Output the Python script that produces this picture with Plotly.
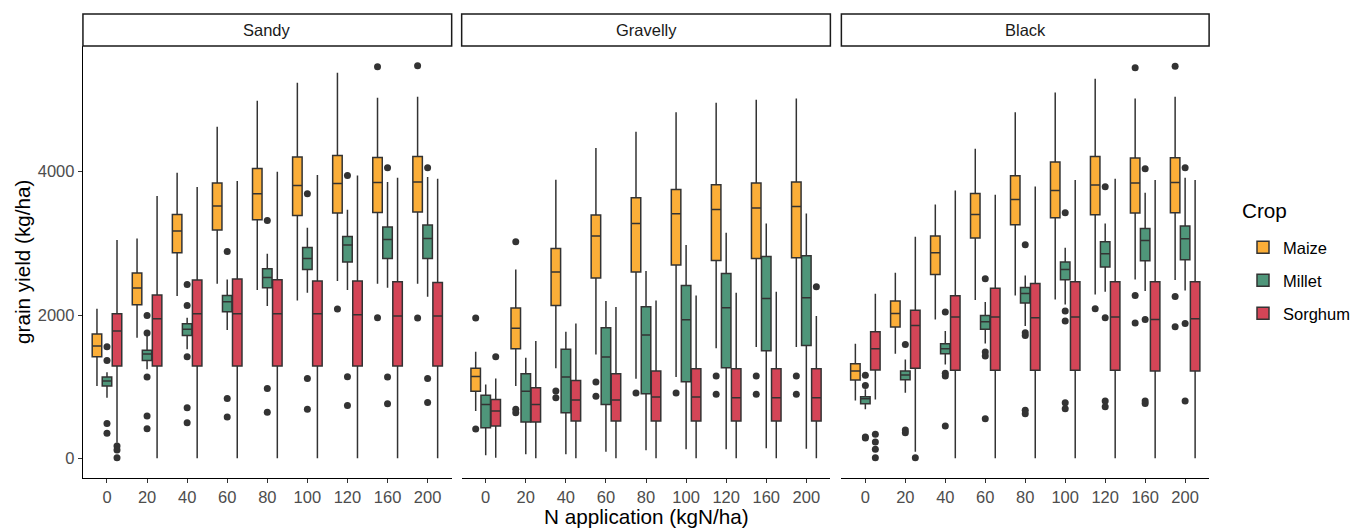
import plotly.graph_objects as go
from plotly.subplots import make_subplots

n_levels = ["0", "20", "40", "60", "80", "100", "120", "160", "200"]
soils = ["Sandy", "Gravelly", "Black"]
crops = ["Maize", "Millet", "Sorghum"]
crop_colors = {"Maize": "#FBAE38", "Millet": "#4F967A", "Sorghum": "#D44557"}

# five-number summaries per N level: (lower whisker, q1, median, q3, upper whisker)
sandy_maize = [(1009, 1418, 1567, 1734, 2088), (1683, 2144, 2376, 2585, 3069), (2265, 2869, 3171, 3404, 3985),
               (2437, 3185, 3520, 3841, 4627), (2348, 3329, 3692, 4046, 4989), (2204, 3390, 3808, 4204, 5241),
               (2474, 3422, 3836, 4227, 5380), (2437, 3432, 3850, 4199, 5031), (2437, 3436, 3855, 4213, 5045)]
sandy_millet = [(846, 1009, 1079, 1135, 1200), (1242, 1367, 1455, 1507, 1707), (1521, 1716, 1800, 1879, 1962),
                (1790, 2046, 2186, 2274, 2497), (2125, 2381, 2525, 2646, 2855), (2311, 2637, 2790, 2943, 3218),
                (2348, 2739, 2976, 3097, 3469), (2381, 2790, 3055, 3227, 3855), (2255, 2790, 3069, 3255, 3925)]
sandy_sorghum = [(219, 1288, 1776, 2018, 3046), (0, 1288, 1948, 2279, 3660), (0, 1288, 2018, 2488, 3785),
                 (0, 1288, 2018, 2502, 3869), (0, 1288, 2018, 2492, 3999), (0, 1288, 2018, 2474, 3953),
                 (0, 1288, 2004, 2474, 3948), (0, 1288, 1986, 2465, 3915), (0, 1288, 1986, 2455, 3901)]

gravelly_maize = [(660, 935, 1144, 1256, 1488), (1009, 1530, 1814, 2097, 2637), (1256, 2134, 2599, 2930, 3887),
                  (1451, 2516, 3102, 3395, 4329), (1111, 2599, 3278, 3636, 4557), (1135, 2697, 3413, 3753, 4831),
                  (1535, 2762, 3474, 3818, 4962), (1553, 2790, 3492, 3841, 5003), (1553, 2799, 3515, 3855, 5022)]
gravelly_millet = [(42, 428, 753, 879, 1032), (56, 507, 935, 1181, 1404), (56, 637, 1135, 1521, 1767),
                   (93, 753, 1414, 1823, 2195), (112, 902, 1721, 2116, 2613), (126, 1070, 1934, 2413, 2976),
                   (126, 1265, 2102, 2581, 3148), (140, 1502, 2232, 2818, 3278), (135, 1576, 2241, 2827, 3418)]
gravelly_sorghum = [(9, 451, 660, 823, 1116), (0, 507, 753, 986, 1637), (0, 521, 814, 1088, 1883),
                    (0, 521, 814, 1181, 2111), (0, 521, 856, 1218, 2204), (0, 521, 856, 1251, 2274),
                    (0, 521, 846, 1251, 2311), (0, 521, 846, 1251, 2325), (0, 521, 846, 1251, 1986)]

black_maize = [(809, 1093, 1218, 1321, 1600), (1460, 1832, 2023, 2195, 2590), (1939, 2567, 2869, 3102, 3543),
               (2209, 3074, 3404, 3697, 4320), (2274, 3260, 3613, 3943, 4831), (2218, 3357, 3739, 4134, 5106),
               (2288, 3399, 3813, 4213, 5296), (2497, 3422, 3841, 4190, 5022), (2488, 3427, 3850, 4194, 5045)]
black_millet = [(684, 763, 832, 860, 963), (916, 1097, 1163, 1218, 1381), (1311, 1460, 1530, 1600, 1776),
                (1604, 1800, 1907, 1995, 2181), (1846, 2167, 2302, 2385, 2553), (2148, 2492, 2637, 2739, 2939),
                (2325, 2669, 2855, 3023, 3278), (2334, 2757, 3041, 3209, 3706), (2344, 2771, 3064, 3241, 3915)]
black_sorghum = [(823, 1232, 1530, 1767, 2297), (93, 1256, 1855, 2065, 3092), (0, 1228, 1972, 2269, 3739),
                 (0, 1228, 1972, 2372, 3678), (0, 1228, 1962, 2441, 3794), (0, 1228, 1972, 2465, 3883),
                 (0, 1228, 1972, 2465, 3901), (0, 1218, 1939, 2465, 3883), (0, 1218, 1948, 2465, 3883)]

# outliers: (N level, grain yield)
sandy_maize_out = [("120", 2083), ("160", 5464), ("160", 1962), ("200", 5478), ("200", 1958)]
sandy_millet_out = [("0", 1558), ("0", 1367), ("0", 488), ("0", 349), ("20", 1995), ("20", 1748), ("20", 1135),
                    ("20", 591), ("20", 414), ("40", 2427), ("40", 2134), ("40", 1418), ("40", 707), ("40", 498),
                    ("60", 2888), ("60", 837), ("60", 577), ("80", 3320), ("80", 976), ("80", 642),
                    ("100", 3692), ("100", 1116), ("100", 684), ("120", 3948), ("120", 1139), ("120", 739),
                    ("160", 4055), ("160", 1135), ("160", 763), ("200", 4055), ("200", 1116), ("200", 781)]
sandy_sorghum_out = [("0", 172), ("0", 116), ("0", 9)]

gravelly_maize_out = [("0", 1958), ("0", 409), ("20", 3023), ("20", 684), ("20", 637), ("40", 939), ("40", 846),
                      ("60", 1065), ("60", 865), ("80", 911), ("100", 911), ("120", 1149), ("120", 893),
                      ("160", 1149), ("160", 893), ("200", 1149), ("200", 893)]
gravelly_millet_out = []
gravelly_sorghum_out = [("0", 1418), ("200", 2395)]

black_maize_out = [("120", 2088), ("160", 5450), ("160", 2274), ("160", 1888), ("200", 5473), ("200", 2260),
                   ("200", 1837)]
black_millet_out = [("0", 1158), ("0", 1018), ("0", 298), ("0", 284), ("20", 1590), ("20", 395), ("20", 358),
                    ("40", 2041), ("40", 1186), ("40", 1149), ("40", 451), ("60", 2506), ("60", 1483),
                    ("60", 1428), ("60", 553), ("80", 2981), ("80", 1753), ("80", 1716), ("80", 670),
                    ("80", 623), ("100", 3427), ("100", 2055), ("100", 1916), ("100", 777), ("100", 693),
                    ("120", 3790), ("120", 1962), ("120", 800), ("120", 721), ("160", 4041), ("160", 1939),
                    ("160", 800), ("160", 767), ("200", 4055), ("200", 1883), ("200", 800)]
black_sorghum_out = [("0", 335), ("0", 228), ("0", 126), ("0", 9), ("20", 9)]

stats = {
    "Sandy": {"Maize": sandy_maize, "Millet": sandy_millet, "Sorghum": sandy_sorghum},
    "Gravelly": {"Maize": gravelly_maize, "Millet": gravelly_millet, "Sorghum": gravelly_sorghum},
    "Black": {"Maize": black_maize, "Millet": black_millet, "Sorghum": black_sorghum},
}
outliers = {
    "Sandy": {"Maize": sandy_maize_out, "Millet": sandy_millet_out, "Sorghum": sandy_sorghum_out},
    "Gravelly": {"Maize": gravelly_maize_out, "Millet": gravelly_millet_out, "Sorghum": gravelly_sorghum_out},
    "Black": {"Maize": black_maize_out, "Millet": black_millet_out, "Sorghum": black_sorghum_out},
}

FONT = "Liberation Sans, Arial, sans-serif"
W, H = 1355, 529
EDGE = "#333333"

fig = make_subplots(rows=1, cols=3)

for ci, soil in enumerate(soils, start=1):
    for crop in crops:
        s = stats[soil][crop]
        fig.add_trace(go.Box(
            x=n_levels,
            lowerfence=[v[0] for v in s], q1=[v[1] for v in s], median=[v[2] for v in s],
            q3=[v[3] for v in s], upperfence=[v[4] for v in s],
            name=crop, legendgroup=crop, offsetgroup=crop, showlegend=(ci == 1),
            fillcolor=crop_colors[crop], line=dict(color=EDGE, width=1.5),
            whiskerwidth=0, boxpoints=False, hoverinfo="skip",
        ), row=1, col=ci)
    for crop in crops:
        o = outliers[soil][crop]
        fig.add_trace(go.Scatter(
            x=[p[0] for p in o], y=[p[1] for p in o], mode="markers",
            marker=dict(color=EDGE, size=7, line=dict(width=0)),
            name=crop, legendgroup=crop, offsetgroup=crop, showlegend=False, hoverinfo="skip",
        ), row=1, col=ci)

# panel geometry (pixels)
panels_px = [(83, 452), (462, 831), (842, 1210)]
plot_top, plot_bot = 46, 478
strip_top = 14

for ci, (x0, x1) in enumerate(panels_px, start=1):
    xa = "xaxis" if ci == 1 else f"xaxis{ci}"
    ya = "yaxis" if ci == 1 else f"yaxis{ci}"
    fig.layout[xa].update(
        domain=[x0 / W, x1 / W], type="category", categoryorder="array", categoryarray=n_levels,
        range=[-0.6, 8.6], showline=True, linecolor="black", linewidth=1.3, mirror=False,
        ticks="outside", ticklen=4, tickcolor=EDGE, tickwidth=1.1, showgrid=False, zeroline=False,
        tickfont=dict(family=FONT, size=16.5, color="#4D4D4D"), automargin=False,
    )
    fig.layout[ya].update(
        domain=[1 - plot_bot / H, 1 - plot_top / H], range=[-274, 5754],
        tickvals=[0, 2000, 4000], showgrid=False, zeroline=False, automargin=False,
        showline=(ci == 1), linecolor="black", linewidth=1.3,
        ticks="outside" if ci == 1 else "", ticklen=4, tickcolor=EDGE, tickwidth=1.1,
        showticklabels=(ci == 1), tickfont=dict(family=FONT, size=16.5, color="#4D4D4D"),
    )
    # strip
    fig.add_shape(type="rect", xref="paper", yref="paper",
                  x0=x0 / W, x1=x1 / W, y0=1 - plot_top / H, y1=1 - strip_top / H,
                  line=dict(color="#1A1A1A", width=1.5), fillcolor="white", layer="above")
    fig.add_annotation(x=(x0 + x1) / 2 / W, y=1 - (plot_top + strip_top) / 2 / H, xref="paper", yref="paper",
                       text=soils[ci - 1], showarrow=False, xanchor="center", yanchor="middle",
                       font=dict(family=FONT, size=16.5, color="#1A1A1A"))

fig.add_annotation(x=647 / W, y=1 - 516 / H, xref="paper", yref="paper", text="N application (kgN/ha)",
                   showarrow=False, xanchor="center", yanchor="middle",
                   font=dict(family=FONT, size=20.7, color="black"))
fig.add_annotation(x=22 / W, y=1 - 262 / H, xref="paper", yref="paper", text="grain yield (kg/ha)",
                   showarrow=False, xanchor="center", yanchor="middle", textangle=-90,
                   font=dict(family=FONT, size=20.7, color="black"))
# legend title
fig.add_annotation(x=1241 / W, y=1 - 210 / H, xref="paper", yref="paper", text="Crop",
                   showarrow=False, xanchor="left", yanchor="middle",
                   font=dict(family=FONT, size=20.7, color="black"))

fig.update_layout(
    width=W, height=H, margin=dict(l=0, r=0, t=0, b=0),
    paper_bgcolor="white", plot_bgcolor="white",
    boxmode="group", boxgap=0.25, boxgroupgap=0.05,
    scattermode="group", scattergap=0.25,
    legend=dict(x=1244 / W, y=1 - 230 / H, xanchor="left", yanchor="top",
                font=dict(family=FONT, size=16.5, color="black"), tracegroupgap=8.5,
                bgcolor="rgba(0,0,0,0)"),
    font=dict(family=FONT),
)

fig.write_html("out.html", config={"displayModeBar": False},
               post_script="document.body.style.margin='0';document.body.style.overflow='hidden';")
